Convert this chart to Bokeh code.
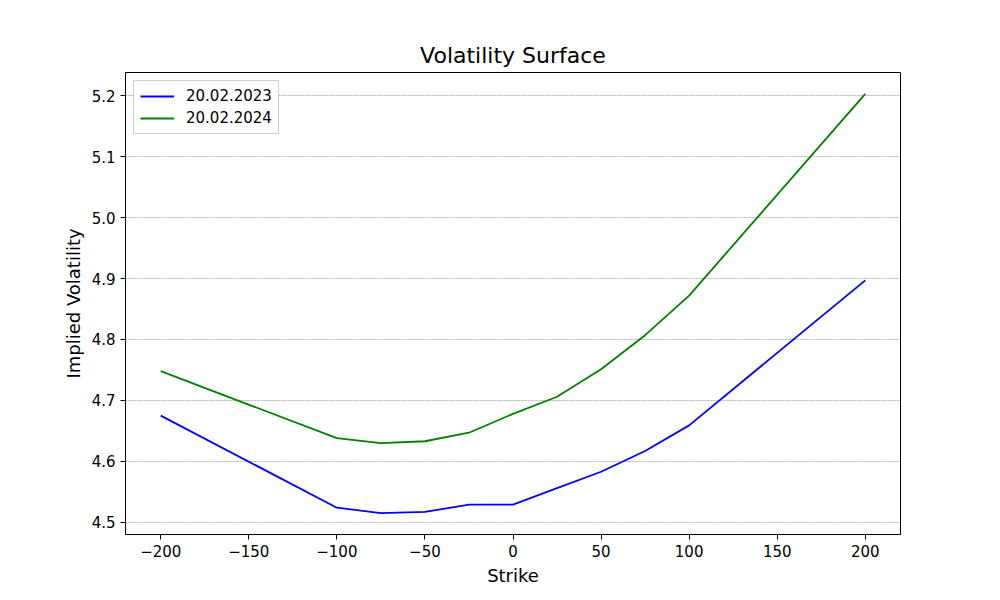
from bokeh.plotting import figure
from bokeh.models import Range1d, FixedTicker, Legend, NumeralTickFormatter
from bokeh.embed import file_html
from bokeh.resources import INLINE

strikes = [-200, -100, -75, -50, -25, 0, 25, 50, 75, 100, 200]
vol_2023 = [4.675, 4.524, 4.515, 4.517, 4.529, 4.529, 4.556, 4.583, 4.617, 4.659, 4.897]
vol_2024 = [4.748, 4.638, 4.630, 4.633, 4.647, 4.678, 4.706, 4.751, 4.807, 4.872, 5.203]

p = figure(width=992, height=592, output_backend="svg", toolbar_location=None,
           x_range=Range1d(-220, 220), y_range=Range1d(4.480, 5.238),
           min_border_left=125, min_border_right=92, min_border_top=72, min_border_bottom=58)

p.title.text = "Volatility Surface"
p.title.align = "center"
p.title.text_font = "DejaVu Sans"
p.title.text_font_size = "22px"
p.title.text_font_style = "normal"
p.title.text_color = "black"

p.outline_line_color = "black"
p.xgrid.grid_line_color = None
p.ygrid.grid_line_color = "grey"
p.ygrid.grid_line_dash = "2 1"
p.ygrid.grid_line_width = 0.6

p.xaxis.ticker = FixedTicker(ticks=[-200, -150, -100, -50, 0, 50, 100, 150, 200])
p.yaxis.ticker = FixedTicker(ticks=[4.5, 4.6, 4.7, 4.8, 4.9, 5.0, 5.1, 5.2])
p.xaxis.major_label_overrides = {-200: "\u2212200", -150: "\u2212150", -100: "\u2212100", -50: "\u221250"}
p.yaxis.formatter = NumeralTickFormatter(format="0.0")
for ax in (p.xaxis, p.yaxis):
    ax.minor_tick_line_color = None
    ax.major_tick_in = 0
    ax.major_tick_out = 5
    ax.major_label_text_font = "DejaVu Sans"
    ax.major_label_text_font_size = "15px"
    ax.major_label_text_color = "black"
    ax.axis_label_text_font = "DejaVu Sans"
    ax.axis_label_text_font_size = "18px"
    ax.axis_label_text_font_style = "normal"
    ax.axis_label_text_color = "black"
    ax.axis_line_color = None
p.xaxis.axis_label = "Strike"
p.yaxis.axis_label = "Implied Volatility"

r1 = p.line(strikes, vol_2023, color="blue", line_width=1.8)
r2 = p.line(strikes, vol_2024, color="green", line_width=1.8)

legend = Legend(items=[("20.02.2023", [r1]), ("20.02.2024", [r2])], location="top_left")
legend.label_text_font = "DejaVu Sans"
legend.label_text_font_size = "15px"
legend.label_text_color = "black"
legend.border_line_color = "#cccccc"
legend.border_line_alpha = 1
legend.spacing = 4
legend.padding = 6
legend.margin = 8
legend.label_height = 18
legend.glyph_height = 18
legend.glyph_width = 34
legend.label_standoff = 12
p.add_layout(legend)

open("out.html", "w").write(file_html(p, INLINE))
